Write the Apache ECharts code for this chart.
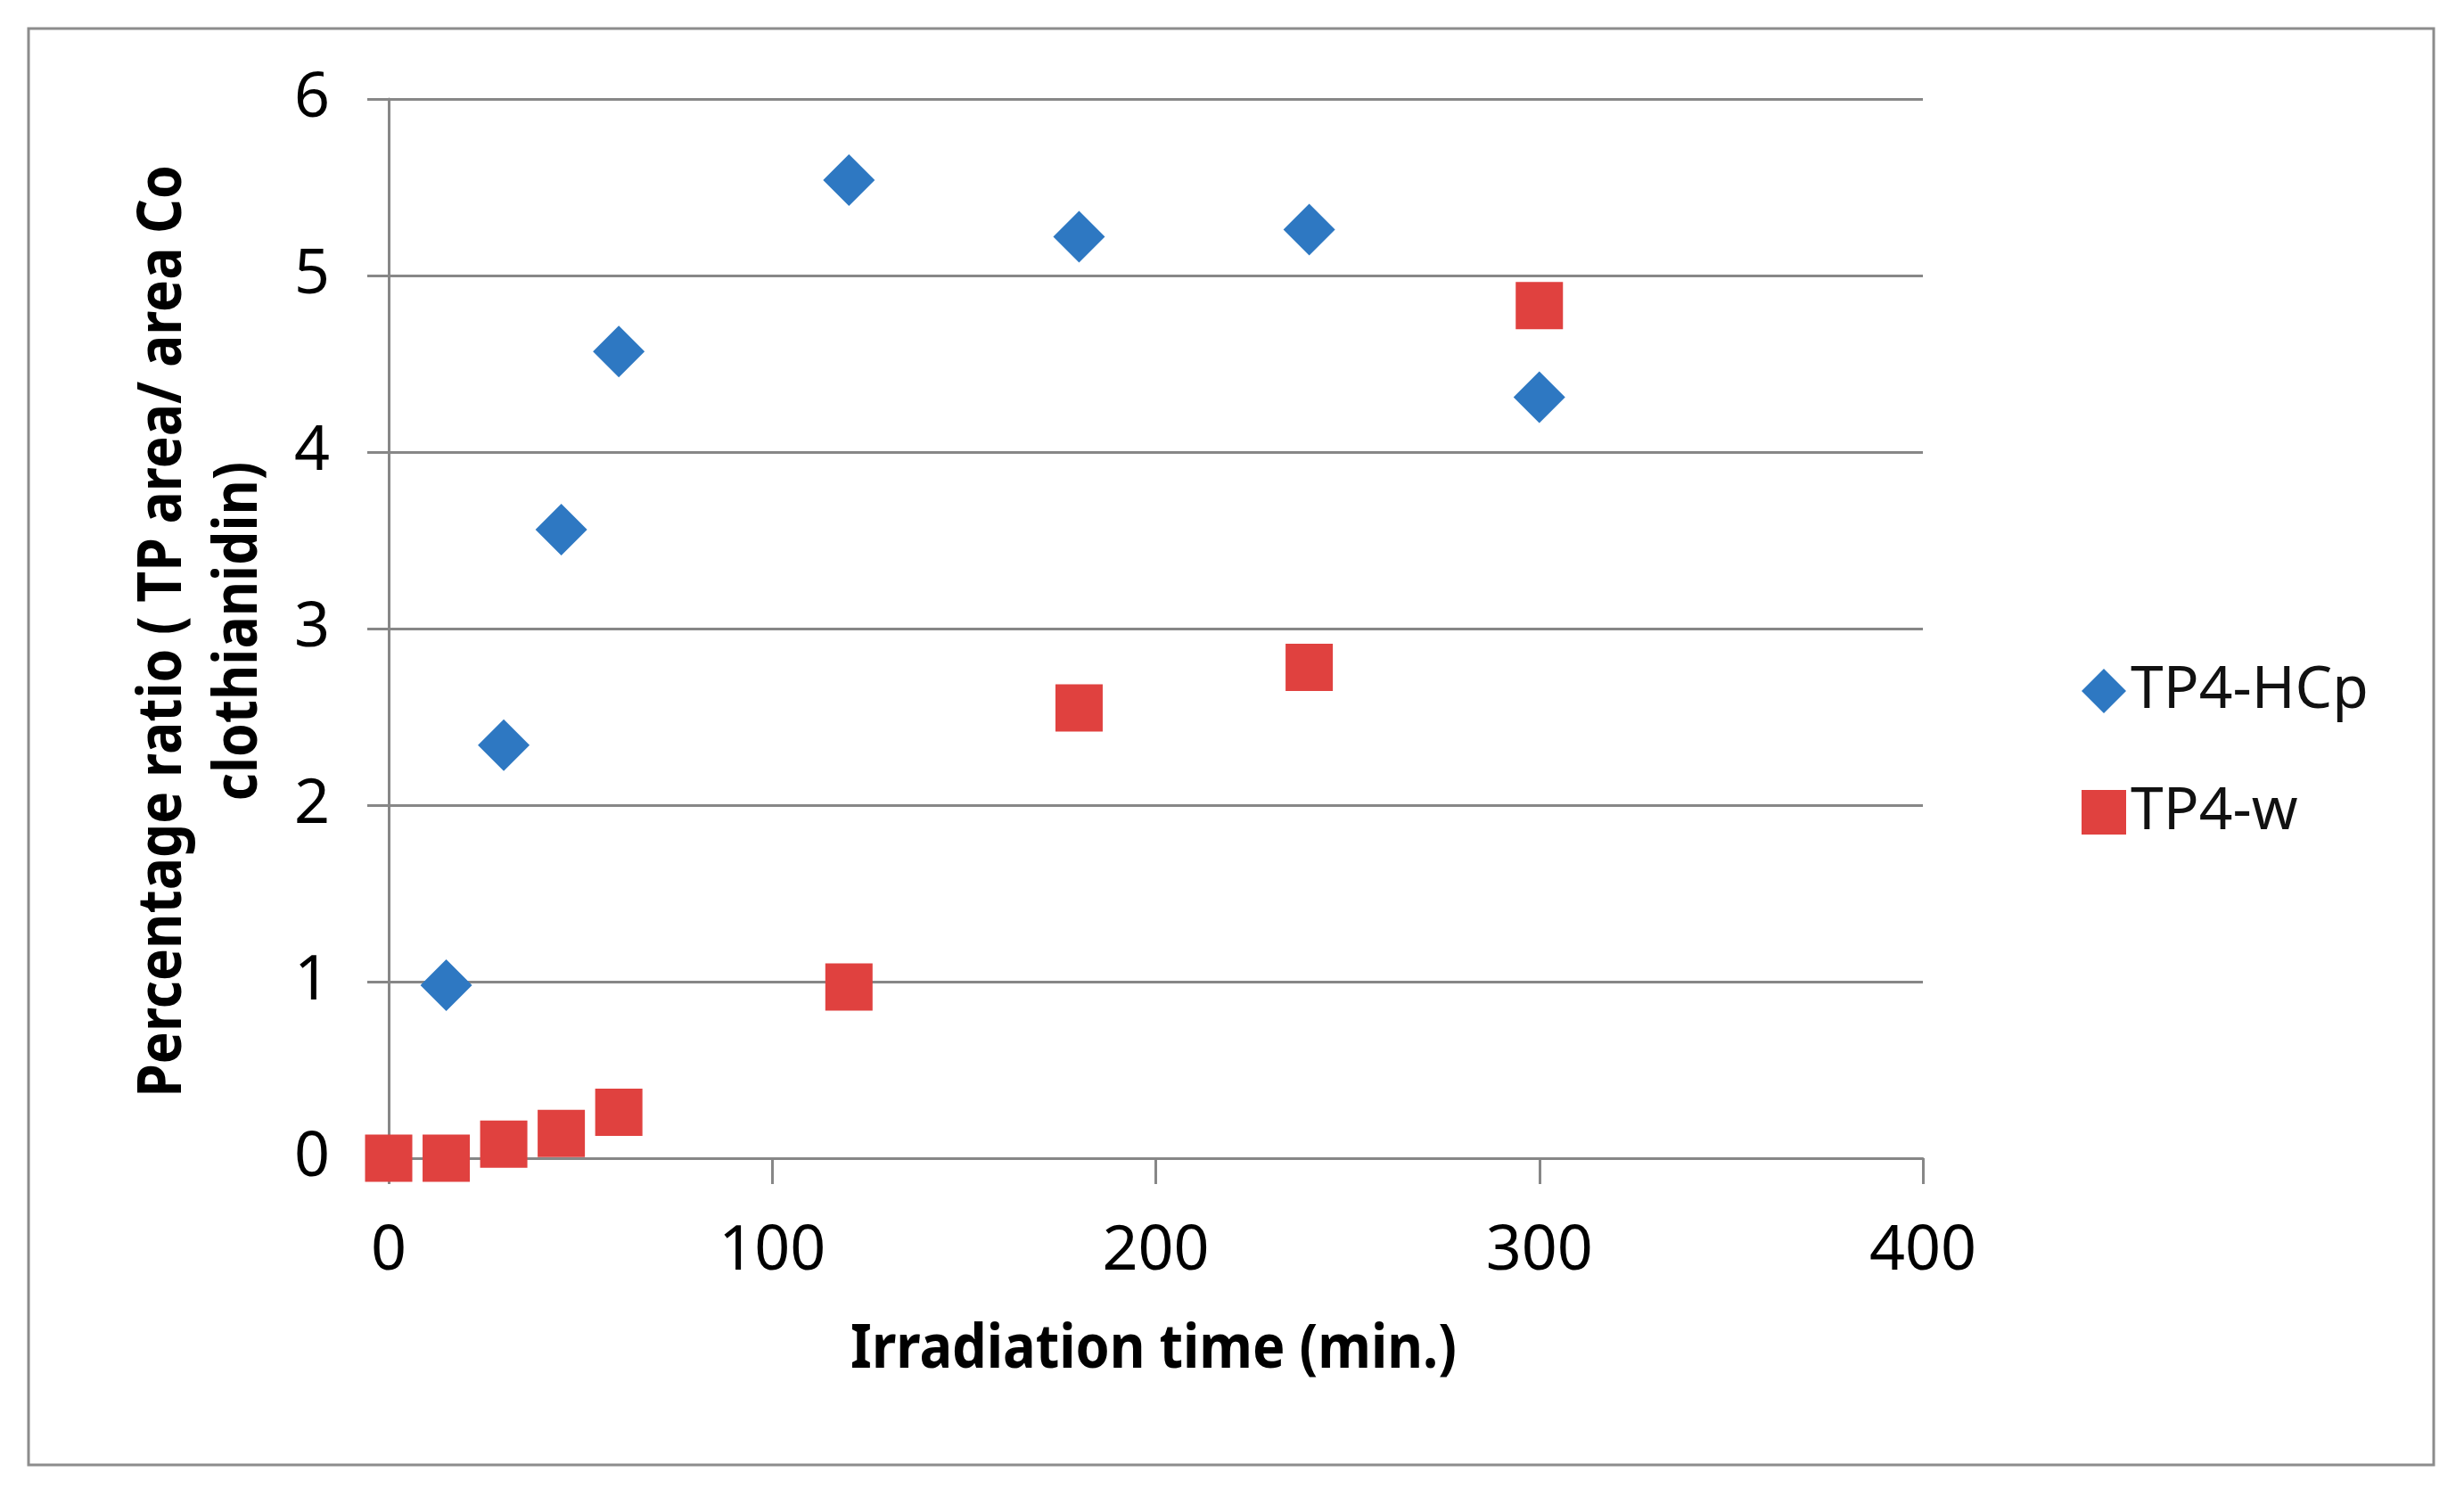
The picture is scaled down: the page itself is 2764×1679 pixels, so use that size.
<!DOCTYPE html>
<html>
<head>
<meta charset="utf-8">
<script src="https://cdn.jsdelivr.net/npm/echarts@6/dist/echarts.min.js"></script>
<style>
html,body{margin:0;padding:0;background:#fff;}
#chart{width:2764px;height:1679px;}
</style>
</head>
<body>
<div id="chart"></div>
<script>
// Data
const timeMin = [0, 15, 30, 45, 60, 120, 180, 240, 300];
const hcpTimes = [15, 30, 45, 60, 120, 180, 240, 300];
const hcpValues = [0.98, 2.34, 3.56, 4.57, 5.54, 5.22, 5.26, 4.31];
const wValues = [0.0, 0.0, 0.08, 0.14, 0.26, 0.97, 2.55, 2.78, 4.83];
const seriesNames = ['TP4-HCp', 'TP4-w'];
const xTitle = 'Irradiation time (min.)';
const yTitleLines = ['Percentage ratio ( TP area/ area Co', 'clothianidin)'];

const GRAY = '#878787';
const chart = echarts.init(document.getElementById('chart'));
chart.setOption({
  backgroundColor: '#ffffff',
  animation: false,
  grid: {left: 436, right: 607, top: 111, bottom: 380},
  xAxis: {
    type: 'value', min: 0, max: 400, interval: 100,
    axisLine: {show: true, lineStyle: {color: GRAY, width: 3}},
    axisTick: {show: true, length: 29, lineStyle: {color: GRAY, width: 3}},
    splitLine: {show: false},
    axisLabel: {color: '#000', fontFamily: 'Noto Sans', fontSize: 70, margin: 70}
  },
  yAxis: {
    type: 'value', min: 0, max: 6, interval: 1,
    axisLine: {show: true, lineStyle: {color: GRAY, width: 3}},
    axisTick: {show: true, length: 24, lineStyle: {color: GRAY, width: 3}},
    splitLine: {show: true, lineStyle: {color: GRAY, width: 3}},
    axisLabel: {color: '#000', fontFamily: 'Noto Sans', fontSize: 70, margin: 66}
  },
  legend: {
    orient: 'vertical', left: 2330, top: 730,
    itemWidth: 50, itemHeight: 50, itemGap: 56, itemTextGap: 20,
    textStyle: {color: '#111', fontFamily: 'Noto Sans', fontSize: 66, lineHeight: 80},
    data: [
      {name: seriesNames[0], icon: 'diamond'},
      {name: seriesNames[1], icon: 'rect'}
    ]
  },
  series: [
    {
      name: seriesNames[0], type: 'scatter', symbol: 'diamond', symbolSize: 58,
      itemStyle: {color: '#2E78C2', opacity: 1},
      data: hcpTimes.map((t, i) => [t, hcpValues[i]])
    },
    {
      name: seriesNames[1], type: 'scatter', symbol: 'rect', symbolSize: 53,
      itemStyle: {color: '#E0413F', opacity: 1},
      data: timeMin.map((t, i) => [t, wValues[i]])
    }
  ],
  graphic: [
    {type: 'rect', shape: {x: 32, y: 32, width: 2698, height: 1611},
     style: {fill: 'none', stroke: '#8c8c8c', lineWidth: 3}, z: -1},
    {type: 'text', x: 1294, y: 1515, scaleX: 0.9,
     style: {text: xTitle, font: 'bold 68px "Noto Sans", sans-serif',
             fill: '#000', textAlign: 'center', textVerticalAlign: 'middle'}},
    {type: 'text', x: 226, y: 708, rotation: Math.PI / 2, scaleX: 0.89,
     style: {text: yTitleLines.join('\n'), font: 'bold 68px "Noto Sans", sans-serif',
             lineHeight: 85, fill: '#000', textAlign: 'center', textVerticalAlign: 'middle'}}
  ]
});
</script>
</body>
</html>
